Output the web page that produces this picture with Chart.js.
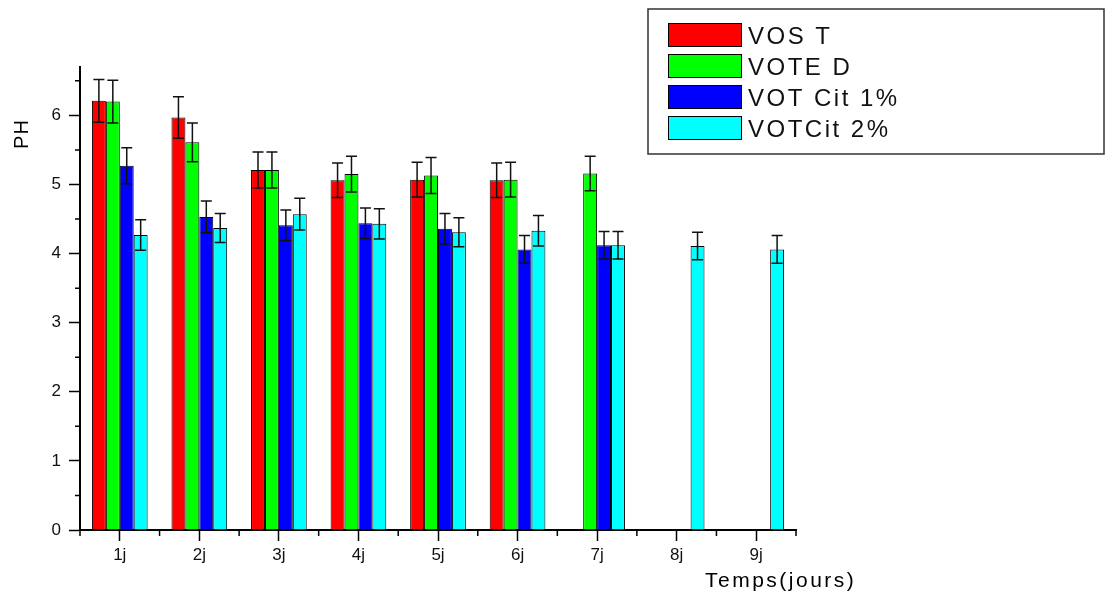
<!DOCTYPE html>
<html>
<head>
<meta charset="utf-8">
<script src="https://cdn.jsdelivr.net/npm/chart.js@4"></script>
<style>
  body { margin: 0; background: #fff; }
  canvas { display: block; }
</style>
</head>
<body>
<canvas id="grafico" width="1106" height="594"></canvas>
<script>
const categorias = ['1j', '2j', '3j', '4j', '5j', '6j', '7j', '8j', '9j'];
const vosT    = [6.21, 5.97, 5.21, 5.06, 5.07, 5.06, null, null, null];
const voteD   = [6.20, 5.61, 5.21, 5.15, 5.13, 5.07, 5.16, null, null];
const votCit1 = [5.27, 4.53, 4.41, 4.44, 4.36, 4.06, 4.12, null, null];
const votCit2 = [4.27, 4.37, 4.57, 4.43, 4.31, 4.33, 4.12, 4.11, 4.06];
// écarts (barres d'erreur)
const errVosT    = [0.31, 0.30, 0.26, 0.25, 0.25, 0.25, null, null, null];
const errVoteD   = [0.31, 0.28, 0.26, 0.26, 0.26, 0.25, 0.25, null, null];
const errVotCit1 = [0.26, 0.23, 0.22, 0.22, 0.22, 0.20, 0.20, null, null];
const errVotCit2 = [0.22, 0.21, 0.23, 0.22, 0.21, 0.22, 0.20, 0.20, 0.20];

const police = '"Liberation Sans", Arial, sans-serif';

const series = [
  { label: 'VOS T', data: vosT, err: errVosT, color: '#ff0000' },
  { label: 'VOTE D', data: voteD, err: errVoteD, color: '#00ff00' },
  { label: 'VOT Cit 1%', data: votCit1, err: errVotCit1, color: '#0000ff' },
  { label: 'VOTCit 2%', data: votCit2, err: errVotCit2, color: '#00ffff' }
];

// barres d'erreur
const erreurs = {
  id: 'erreurs',
  afterDatasetsDraw(chart) {
    const ctx = chart.ctx;
    const y = chart.scales.y;
    ctx.save();
    ctx.strokeStyle = '#111';
    ctx.lineWidth = 1.5;
    chart.data.datasets.forEach((ds, i) => {
      const meta = chart.getDatasetMeta(i);
      meta.data.forEach((bar, j) => {
        const v = ds.data[j];
        const e = ds.err[j];
        if (v == null || e == null) return;
        const yh = y.getPixelForValue(v + e);
        const yb = y.getPixelForValue(v - e);
        const half = 5.5;
        ctx.beginPath();
        ctx.moveTo(bar.x, yh); ctx.lineTo(bar.x, yb);
        ctx.moveTo(bar.x - half, yh); ctx.lineTo(bar.x + half, yh);
        ctx.moveTo(bar.x - half, yb); ctx.lineTo(bar.x + half, yb);
        ctx.stroke();
      });
    });
    ctx.restore();
  }
};

// petites graduations, titres d'axes et légende
const decor = {
  id: 'decor',
  afterDraw(chart) {
    const ctx = chart.ctx;
    const area = chart.chartArea;
    const x = chart.scales.x;
    const y = chart.scales.y;
    ctx.save();
    ctx.strokeStyle = '#000';
    ctx.lineWidth = 1.5;
    ctx.beginPath();
    for (let v = 0.5; v <= y.max; v += 1) {
      const py = y.getPixelForValue(v);
      ctx.moveTo(area.left - 5, py); ctx.lineTo(area.left, py);
    }
    for (let k = 0; k <= categorias.length; k++) {
      const px = x.getPixelForValue(k - 0.5);
      ctx.moveTo(px, area.bottom); ctx.lineTo(px, area.bottom + 6);
    }
    ctx.stroke();

    ctx.fillStyle = '#000';
    ctx.letterSpacing = '2.5px';
    ctx.font = '21px ' + police;
    ctx.textBaseline = 'alphabetic';
    ctx.textAlign = 'left';
    ctx.fillText('Temps(jours)', area.right - 91, area.bottom + 57);

    ctx.save();
    ctx.translate(28, 134);
    ctx.rotate(-Math.PI / 2);
    ctx.textAlign = 'center';
    ctx.font = '20px ' + police;
    ctx.letterSpacing = '1px';
    ctx.fillText('PH', 0, 0);
    ctx.restore();

    // légende
    ctx.lineWidth = 1.5;
    ctx.strokeStyle = '#333';
    ctx.strokeRect(648, 9, 456, 145);
    ctx.font = '24px ' + police;
    ctx.letterSpacing = '2.5px';
    chart.data.datasets.forEach((ds, i) => {
      const top = 23 + i * 31;
      ctx.fillStyle = ds.backgroundColor;
      ctx.fillRect(668, top, 73, 23);
      ctx.lineWidth = 1;
      ctx.strokeStyle = '#000';
      ctx.strokeRect(668.5, top + 0.5, 73, 23);
      ctx.fillStyle = '#111';
      ctx.fillText(ds.label, 748, top + 21);
    });
    ctx.restore();
  }
};

new Chart(document.getElementById('grafico'), {
  type: 'bar',
  data: {
    labels: categorias,
    datasets: series.map(s => ({
      label: s.label,
      data: s.data,
      err: s.err,
      backgroundColor: s.color,
      borderColor: '#000',
      borderWidth: 1,
      categoryPercentage: 0.7,
      barPercentage: 1.0
    }))
  },
  options: {
    responsive: false,
    animation: false,
    layout: { padding: { top: 67, right: 310, left: 0, bottom: 0 } },
    plugins: { legend: { display: false }, tooltip: { enabled: false } },
    scales: {
      x: {
        grid: { offset: false, drawOnChartArea: false, tickLength: 11, tickColor: '#000', tickWidth: 1.5 },
        border: { color: '#000', width: 2 },
        ticks: { color: '#111', font: { family: police, size: 17 }, padding: 4, maxRotation: 0 },
        afterFit(scale) { scale.height = 64; }
      },
      y: {
        min: 0,
        max: 6.7,
        grid: { drawOnChartArea: false, tickLength: 11, tickColor: '#000', tickWidth: 1.5 },
        border: { color: '#000', width: 2 },
        ticks: { stepSize: 1, includeBounds: false, color: '#111', font: { family: police, size: 17 }, padding: 8 },
        afterFit(scale) { scale.width = 80; }
      }
    }
  },
  plugins: [erreurs, decor]
});
</script>
</body>
</html>
